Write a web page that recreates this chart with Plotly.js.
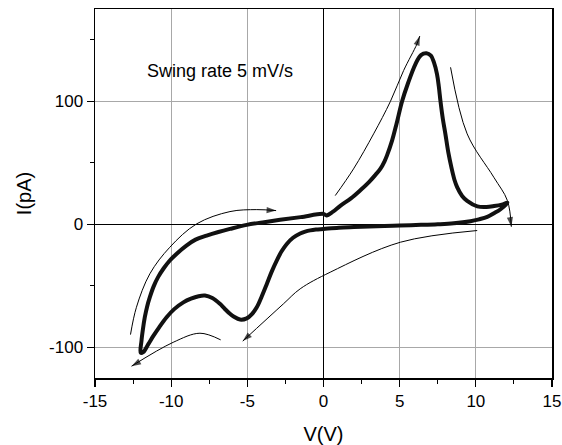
<!DOCTYPE html>
<html>
<head>
<meta charset="utf-8">
<script src="https://cdn.plot.ly/plotly-3.0.1.min.js"></script>
<style>html,body{margin:0;padding:0;background:#fff;}#chart{width:562px;height:445px;}</style>
</head>
<body>
<div id="chart"></div>
<script>
// Cyclic I-V loop (V in volts, I in pA)
var loopV = [0.0, 0.2, 0.6, 1.1, 1.8, 2.4, 3.0, 3.4, 3.73, 4.0, 4.17, 4.5, 4.8, 5.16, 5.53, 6.03, 6.4, 6.76, 7.05, 7.24, 7.45, 7.57, 7.68, 7.83, 8.0, 8.2, 8.4, 8.6, 8.78, 9.1, 9.43, 10.1, 10.7, 11.2, 11.7, 12.07,
             11.6, 11.2, 10.75, 10.2, 9.65, 8.55, 7.5, 6.4, 5.0, 4.0, 2.0, 1.0, 0.0, -0.5, -0.87, -1.2, -1.53, -2.0, -2.41, -2.75, -3.07, -3.4, -3.72, -4.05, -4.38, -4.7, -5.04, -5.48, -5.9, -6.14, -6.5, -6.8, -7.3, -7.78, -8.2, -8.7, -9.2, -9.8, -10.3, -10.8, -11.18, -11.5, -11.84, -12.0,
             -11.95, -11.85, -11.73, -11.58, -11.4, -11.15, -10.86, -10.5, -10.09, -9.6, -9.0, -8.4, -7.67, -6.9, -6.14, -5.04, -4.0, -2.85, -1.5, 0.0];
var loopI = [8.4, 7.2, 10, 15, 21, 27.4, 34.5, 40, 45, 51, 56, 68, 82, 100, 114, 130, 137.5, 139, 137, 132, 122, 112, 100, 86, 73.5, 58, 46, 36, 30, 23, 19, 14.5, 14, 14.8, 16, 17.5,
             12, 9, 6, 4, 2.5, 0.8, 0, -0.5, -1, -1.5, -2.3, -2.8, -3.8, -4.3, -5, -6, -7.5, -11, -16, -22, -29.5, -38.5, -48.5, -58.5, -67.5, -73, -76.5, -77.5, -75, -72.8, -68.5, -64.7, -60, -58, -58.5, -60.5, -63.5, -69, -75.6, -84, -91, -97.5, -104, -104.5,
             -95, -85, -75.6, -67, -59.3, -50.5, -43, -36, -29.5, -23.5, -17.3, -12.5, -9.2, -6.3, -3.8, -0.5, 1.5, 3.6, 5.8, 8.4];

// Guide arrows (direction of sweep)
var arrowUpV = [0.77, 1.97, 3.29, 4.39, 5.26, 6.14, 6.32];
var arrowUpI = [23.3, 45, 73.5, 99.8, 125, 146.7, 153];
var arrowDownV = [8.34, 9.43, 11.18, 12.07, 12.33];
var arrowDownI = [127.6, 73.5, 38.2, 19.3, -2];
var arrowBackV = [10.09, 5.05, 0.44, -1.53, -2.63, -5.3];
var arrowBackI = [-5.1, -14.6, -39, -52.5, -64.7, -95];
var arrowLowV = [-6.75, -8.11, -9.87, -12.6];
var arrowLowI = [-94, -88.6, -96, -115.4];
var arrowLeftV = [-12.67, -12.28, -11.4, -10.09, -8.33, -6.14, -4.38, -3.11];
var arrowLeftI = [-89.7, -67.5, -40.3, -18.7, 0.3, 10.3, 11.9, 11.1];

var xTickVals = [-15, -10, -5, 0, 5, 10, 15];
var xTickText = ["-15", "-10", "-5", "0", "5", "10", "15"];
var yTickVals = [-100, 0, 100];
var yTickText = ["-100", "0", "100"];
var noteText = "Swing rate 5 mV/s";

function arrowTrace(xs, ys) {
  var sizes = xs.map(function (v, i) { return i === xs.length - 1 ? 10 : 0; });
  return {
    x: xs, y: ys, type: 'scatter', mode: 'lines+markers',
    line: {color: '#000', width: 1, shape: 'spline', smoothing: 1},
    marker: {symbol: 'arrow', angleref: 'previous', size: sizes, color: '#000', line: {width: 0}},
    hoverinfo: 'skip', showlegend: false
  };
}

var traces = [
  arrowTrace(arrowUpV, arrowUpI),
  arrowTrace(arrowDownV, arrowDownI),
  arrowTrace(arrowBackV, arrowBackI),
  arrowTrace(arrowLowV, arrowLowI),
  arrowTrace(arrowLeftV, arrowLeftI),
  {
    x: loopV, y: loopI, type: 'scatter', mode: 'lines',
    line: {color: '#111', width: 4, shape: 'spline', smoothing: 1},
    showlegend: false
  }
];

var fontFam = '"Liberation Sans", Arial, sans-serif';
var layout = {
  width: 562, height: 445,
  margin: {l: 95, r: 10, t: 9, b: 67},
  paper_bgcolor: '#fff', plot_bgcolor: '#fff',
  font: {family: fontFam, color: '#000', size: 17},
  showlegend: false,
  xaxis: {
    range: [-15, 15], tickvals: xTickVals, ticktext: xTickText,
    ticks: 'outside', ticklen: 7, tickwidth: 1.2, tickcolor: '#000',
    minor: {dtick: 2.5, tick0: 0, ticks: 'outside', ticklen: 4, tickwidth: 1, tickcolor: '#000', showgrid: false},
    showgrid: true, gridcolor: '#a8a8a8', gridwidth: 1,
    zeroline: true, zerolinecolor: '#000', zerolinewidth: 1.5,
    showline: true, linecolor: '#000', linewidth: 1.5, mirror: true,
    tickfont: {size: 17, family: fontFam},
    title: {text: 'V(V)', font: {size: 20, family: fontFam}, standoff: 24},
    automargin: false
  },
  yaxis: {
    range: [-125, 175], tickvals: yTickVals, ticktext: yTickText,
    ticks: 'outside', ticklen: 7, tickwidth: 1.2, tickcolor: '#000',
    minor: {dtick: 50, tick0: 0, ticks: 'outside', ticklen: 4, tickwidth: 1, tickcolor: '#000', showgrid: false},
    showgrid: true, gridcolor: '#a8a8a8', gridwidth: 1,
    zeroline: true, zerolinecolor: '#000', zerolinewidth: 1.5,
    showline: true, linecolor: '#000', linewidth: 1.5, mirror: true,
    tickfont: {size: 17, family: fontFam},
    title: {text: 'I(pA)', font: {size: 20, family: fontFam}, standoff: 12},
    automargin: false
  },
  annotations: [{
    x: -6.8, y: 125, xref: 'x', yref: 'y', text: noteText, showarrow: false,
    font: {size: 18, family: fontFam, color: '#000'}
  }]
};

Plotly.newPlot('chart', traces, layout, {displayModeBar: false, staticPlot: true});
</script>
</body>
</html>
